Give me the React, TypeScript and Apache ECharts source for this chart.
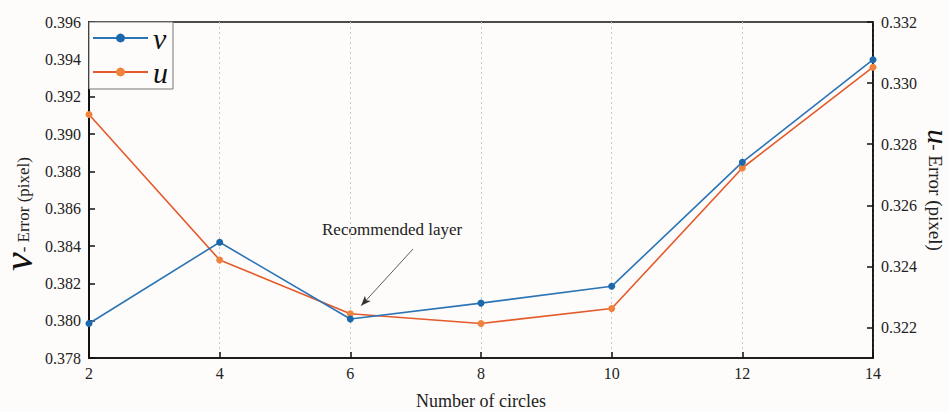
import React, { useEffect, useRef } from "react";
import * as echarts from "echarts";

const circles = [2, 4, 6, 8, 10, 12, 14];
const vError = [0.37985, 0.3842, 0.38009, 0.38094, 0.38184, 0.38849, 0.39398];
const uError = [0.32897, 0.32421, 0.32245, 0.32213, 0.32262, 0.32722, 0.33052];
const rightTicks = [0.322, 0.324, 0.326, 0.328, 0.33, 0.332];
const arrowFrom = [6.96, 0.38384];
const arrowTo = [6.165, 0.3808];

const SERIF = "'Liberation Serif', 'DejaVu Serif', serif";
const BLUE_LINE = "#2b74b6";
const BLUE_DOT = "#1c68ad";
const ORANGE_LINE = "#e55a2b";
const ORANGE_DOT = "#f0833b";

export default function App() {
  const ref = useRef<HTMLDivElement>(null);
  useEffect(() => {
    if (!ref.current) return;
    const chart = echarts.init(ref.current, null, { renderer: "svg" });
    chart.setOption({
      animation: false,
      backgroundColor: "#fdfcfa",
      textStyle: { fontFamily: SERIF },
      grid: {
        left: 89,
        right: 76,
        top: 22,
        bottom: 54,
        containLabel: false,
        outerBoundsMode: "none",
        show: true,
        borderColor: "#111",
        borderWidth: 1.6,
        backgroundColor: "transparent",
      },
      legend: {
        left: 89,
        top: 22,
        orient: "vertical",
        itemWidth: 55,
        itemHeight: 11,
        itemGap: 4,
        padding: [1, 5, 2, 3],
        borderColor: "#777",
        borderWidth: 1,
        backgroundColor: "#fdfcfa",
        textStyle: {
          fontFamily: SERIF,
          fontStyle: "italic",
          fontSize: 30,
          color: "#111",
          lineHeight: 24,
        },
        data: ["v", "u"],
      },
      xAxis: {
        type: "value",
        min: 2,
        max: 14,
        interval: 2,
        name: "Number of circles",
        nameLocation: "middle",
        nameGap: 34,
        nameMoveOverlap: false,
        nameTextStyle: { fontFamily: SERIF, fontSize: 18, color: "#222" },
        axisLine: { lineStyle: { color: "#111", width: 1.6 } },
        axisTick: { show: true, inside: true, length: 6, lineStyle: { color: "#111", width: 1.5 } },
        axisLabel: { fontFamily: SERIF, fontSize: 16, color: "#222", margin: 7 },
        splitLine: { show: true, lineStyle: { color: "#c8c8c8", type: [2, 3], width: 1 } },
      },
      yAxis: [
        {
          type: "value",
          min: 0.378,
          max: 0.396,
          interval: 0.002,
          position: "left",
          name: "{v|v}{e|- Error (pixel)}",
          nameLocation: "middle",
          nameGap: 50,
          nameMoveOverlap: false,
          nameTextStyle: {
            padding: [0, 48, 0, 0],
            rich: {
              v: { fontFamily: SERIF, fontStyle: "italic", fontSize: 42, color: "#111" },
              e: { fontFamily: SERIF, fontSize: 17, color: "#222", padding: [10, 0, 0, 0] },
            },
          },
          axisLine: { show: true, lineStyle: { color: "#111", width: 2 } },
          axisTick: { show: true, inside: true, length: 6, lineStyle: { color: "#111", width: 1.5 } },
          axisLabel: {
            fontFamily: SERIF,
            fontSize: 16,
            color: "#222",
            margin: 8,
            formatter: (val: number) => val.toFixed(3),
          },
          splitLine: { show: false },
        },
        {
          type: "value",
          min: 0.321,
          max: 0.332,
          position: "right",
          name: "{u|u}{e|- Error (pixel)}",
          nameLocation: "middle",
          nameGap: 50,
          nameMoveOverlap: false,
          nameRotate: -90,
          nameTextStyle: {
            rich: {
              u: { fontFamily: SERIF, fontStyle: "italic", fontSize: 30, color: "#111" },
              e: { fontFamily: SERIF, fontSize: 19, color: "#222", padding: [6, 0, 0, 0] },
            },
          },
          axisLine: { show: true, lineStyle: { color: "#111", width: 1.6 } },
          axisTick: {
            show: true,
            inside: true,
            length: 6,
            customValues: rightTicks,
            lineStyle: { color: "#111", width: 1.5 },
          },
          axisLabel: {
            fontFamily: SERIF,
            fontSize: 16,
            color: "#222",
            margin: 8,
            customValues: rightTicks,
            formatter: (val: number) => val.toFixed(3),
          },
          splitLine: { show: false },
        },
      ],
      graphic: [
        {
          type: "text",
          left: 322,
          top: 221,
          style: {
            text: "Recommended layer",
            font: "17px 'Liberation Serif', serif",
            fill: "#222",
          },
        },
      ],
      series: [
        {
          name: "v",
          type: "line",
          yAxisIndex: 0,
          data: circles.map((c, i) => [c, vError[i]]),
          symbol: "circle",
          symbolSize: 7,
          lineStyle: { color: BLUE_LINE, width: 1.6 },
          itemStyle: { color: BLUE_DOT },
          z: 3,
          markLine: {
            silent: true,
            symbol: ["none", "arrow"],
            symbolSize: [6, 10],
            label: { show: false },
            lineStyle: { color: "#333", width: 0.8, type: "solid" },
            data: [[{ coord: arrowFrom }, { coord: arrowTo }]],
          },
        },
        {
          name: "u",
          type: "line",
          yAxisIndex: 1,
          data: circles.map((c, i) => [c, uError[i]]),
          symbol: "circle",
          symbolSize: 7,
          lineStyle: { color: ORANGE_LINE, width: 1.6 },
          itemStyle: { color: ORANGE_DOT },
          z: 2,
        },
      ],
    });
    return () => chart.dispose();
  }, []);
  return <div ref={ref} style={{ width: 949, height: 412, position: "absolute", left: 0, top: 0 }} />;
}
